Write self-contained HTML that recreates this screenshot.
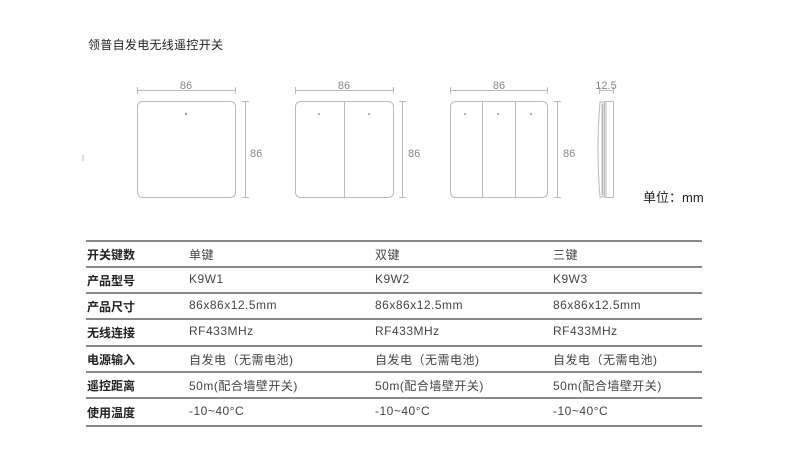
<!DOCTYPE html>
<html><head><meta charset="utf-8"><style>
body{margin:0;width:790px;height:470px;background:#fff;position:relative;overflow:hidden;font-family:"Liberation Sans","Noto Sans CJK SC",sans-serif;}
.t{position:absolute;white-space:nowrap;}
.h{font-size:12px;color:#222;font-weight:bold;}
.c{font-size:12px;color:#444;letter-spacing:0.5px;}
.line{position:absolute;left:86px;width:616px;height:2px;background:#888;}
</style></head><body>
<div class="t" style="left:88px;top:36px;font-size:12px;color:#222;letter-spacing:0.3px">领普自发电无线遥控开关</div>
<svg width="790" height="230" style="position:absolute;left:0;top:0" font-family="Liberation Sans" font-size="11" fill="#888">
<g stroke="#bbb" stroke-width="1" fill="none">
<line x1="83" y1="155" x2="83" y2="161"/>
<rect x="137.5" y="101.5" width="98" height="96" rx="5"/>
<line x1="137" y1="90.5" x2="236" y2="90.5"/><line x1="137.5" y1="87" x2="137.5" y2="94"/><line x1="235.5" y1="87" x2="235.5" y2="94"/>
<line x1="245.5" y1="101" x2="245.5" y2="198"/><line x1="242" y1="101.5" x2="249" y2="101.5"/><line x1="242" y1="197.5" x2="249" y2="197.5"/>
<rect x="295.5" y="101.5" width="98" height="96" rx="5"/>
<line x1="344.5" y1="101" x2="344.5" y2="198"/>
<line x1="295" y1="90.5" x2="394" y2="90.5"/><line x1="295.5" y1="87" x2="295.5" y2="94"/><line x1="393.5" y1="87" x2="393.5" y2="94"/>
<line x1="402.5" y1="101" x2="402.5" y2="198"/><line x1="399" y1="101.5" x2="406" y2="101.5"/><line x1="399" y1="197.5" x2="406" y2="197.5"/>
<rect x="450.5" y="101.5" width="97" height="96" rx="5"/>
<line x1="482.5" y1="101" x2="482.5" y2="198"/><line x1="515.5" y1="101" x2="515.5" y2="198"/>
<line x1="450" y1="90.5" x2="548" y2="90.5"/><line x1="450.5" y1="87" x2="450.5" y2="94"/><line x1="547.5" y1="87" x2="547.5" y2="94"/>
<line x1="557.5" y1="101" x2="557.5" y2="198"/><line x1="554" y1="101.5" x2="561" y2="101.5"/><line x1="554" y1="197.5" x2="561" y2="197.5"/>
<line x1="599" y1="90.5" x2="614" y2="90.5"/><line x1="599.5" y1="87" x2="599.5" y2="94"/><line x1="613.5" y1="87" x2="613.5" y2="94"/>
<path d="M600 102 L603 102 L603 197 L600 197 Q596 150 600 102 Z"/>
<line x1="602" y1="104" x2="602" y2="195"/>
<rect x="604.5" y="101.5" width="9" height="96" rx="1"/>
<line x1="606" y1="102" x2="606" y2="197"/>
</g>
<g fill="#999"><circle cx="186" cy="114" r="1.2"/><circle cx="319" cy="114" r="1"/><circle cx="369" cy="114" r="1"/><circle cx="465" cy="114" r="1"/><circle cx="498" cy="114" r="1"/><circle cx="531" cy="114" r="1"/></g>
<text x="186" y="89" text-anchor="middle">86</text>
<text x="344" y="89" text-anchor="middle">86</text>
<text x="499" y="89" text-anchor="middle">86</text>
<text x="606" y="89" text-anchor="middle">12.5</text>
<text x="250" y="157">86</text>
<text x="408" y="157">86</text>
<text x="563" y="157">86</text>
</svg>
<div class="t" style="left:643px;top:187px;font-size:13px;color:#222">单位：mm</div>

<div class="line" style="top:240px"></div>
<div class="line" style="top:266px"></div>
<div class="line" style="top:292px"></div>
<div class="line" style="top:318px"></div>
<div class="line" style="top:345px"></div>
<div class="line" style="top:371px"></div>
<div class="line" style="top:397px"></div>
<div class="line" style="top:425px"></div>

<div class="t h" style="left:87px;top:246px">开关键数</div><div class="t c" style="left:189px;top:246px">单键</div><div class="t c" style="left:375px;top:246px">双键</div><div class="t c" style="left:553px;top:246px">三键</div>
<div class="t h" style="left:87px;top:272px">产品型号</div><div class="t c" style="left:189px;top:272px">K9W1</div><div class="t c" style="left:375px;top:272px">K9W2</div><div class="t c" style="left:553px;top:272px">K9W3</div>
<div class="t h" style="left:87px;top:298px">产品尺寸</div><div class="t c" style="left:189px;top:298px">86x86x12.5mm</div><div class="t c" style="left:375px;top:298px">86x86x12.5mm</div><div class="t c" style="left:553px;top:298px">86x86x12.5mm</div>
<div class="t h" style="left:87px;top:324px">无线连接</div><div class="t c" style="left:189px;top:324px">RF433MHz</div><div class="t c" style="left:375px;top:324px">RF433MHz</div><div class="t c" style="left:553px;top:324px">RF433MHz</div>
<div class="t h" style="left:87px;top:351px">电源输入</div><div class="t c" style="left:189px;top:351px">自发电（无需电池)</div><div class="t c" style="left:375px;top:351px">自发电（无需电池)</div><div class="t c" style="left:553px;top:351px">自发电（无需电池)</div>
<div class="t h" style="left:87px;top:377px">遥控距离</div><div class="t c" style="left:189px;top:377px">50m(配合墙壁开关)</div><div class="t c" style="left:375px;top:377px">50m(配合墙壁开关)</div><div class="t c" style="left:553px;top:377px">50m(配合墙壁开关)</div>
<div class="t h" style="left:87px;top:404px">使用温度</div><div class="t c" style="left:189px;top:404px">-10~40°C</div><div class="t c" style="left:375px;top:404px">-10~40°C</div><div class="t c" style="left:553px;top:404px">-10~40°C</div>
</body></html>
